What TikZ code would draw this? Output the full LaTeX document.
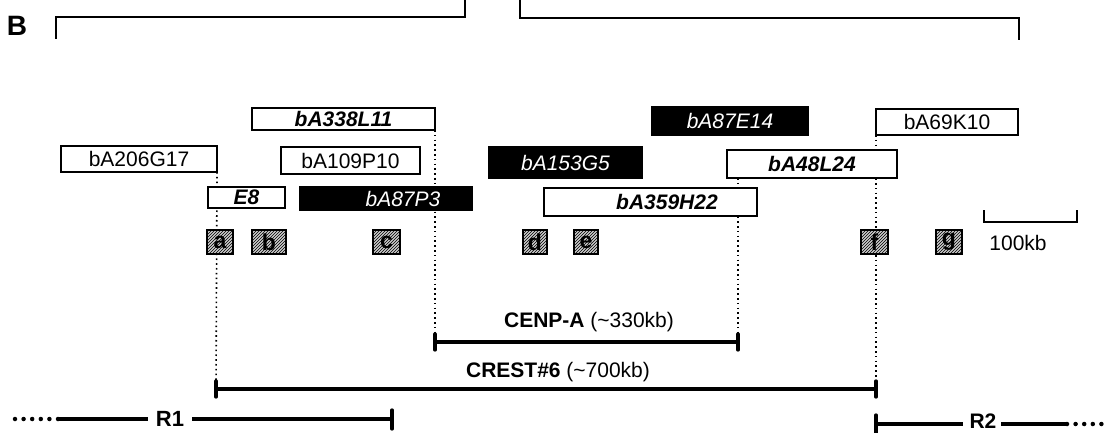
\documentclass[tikz,border=0pt]{standalone}
\usepackage{fontspec}
\setmainfont{Liberation Sans}
\usetikzlibrary{patterns}
\begin{document}
\begin{tikzpicture}[x=1pt,y=-1pt,
  every node/.style={inner sep=0pt, outer sep=0pt, font=\fontsize{21}{24}\selectfont},
  wbox/.style={draw=black, fill=white, line width=1.3pt, anchor=north west},
  kbox/.style={draw=black, fill=black, text=white, line width=1.3pt, anchor=north west},
  bi/.style={font=\fontsize{21}{24}\selectfont\bfseries\itshape},
  wi/.style={font=\fontsize{21}{24}\selectfont\itshape, text=white},
  sq/.style={draw=black, line width=1.1pt, fill=gray!40, anchor=north west, minimum height=24pt},
  dotline/.style={line width=1.6pt, dash pattern=on 1.6pt off 3.2pt},
  bar/.style={line width=3.3pt},
  tick/.style={line width=3.3pt, line cap=round},
  brk/.style={line width=1.5pt},
  dots/.style={line width=4.5pt, line cap=round, dash pattern=on 0pt off 8.6pt}
]
\useasboundingbox (0,0) rectangle (1109,433);

% coordinates of bar ends
\coordinate (cenL) at (435,342);
\coordinate (cenR) at (738,342);
\coordinate (crL) at (216,389);
\coordinate (crR) at (876,389);

% top bracket and label
\node[font=\fontsize{28}{30}\selectfont\bfseries] (B) at (17,26) {B};
\draw[brk] (56,39) -- (56,17) -- (465,17) -- (465,0);
\draw[brk] (520,0) -- (520,18) -- (1019,18) -- (1019,40);

% placeholders of boxes that start dotted lines
\node[wbox, draw=none, fill=none, minimum width=183pt, minimum height=22pt] (p338) at (252,108) {};
\node[wbox, draw=none, fill=none, minimum width=156pt, minimum height=26pt] (p206) at (61,146) {};
\node[wbox, draw=none, fill=none, minimum width=170pt, minimum height=28pt] (p48) at (727,150) {};
\node[wbox, draw=none, fill=none, minimum width=142pt, minimum height=26pt] (p69) at (876,109) {};

% dotted lines
\draw[dotline] (p206.south east) -- (crL);
\draw[dotline] (p338.south east) -- (cenL);
\draw[dotline] (p48.south -| cenR) -- (cenR);
\draw[dotline] (p69.south west) -- (crR);

% clone boxes
\node[wbox, minimum width=183pt, minimum height=22pt, bi] (n338) at (252,108) {bA338L11};
\node[wbox, minimum width=156pt, minimum height=26pt] (n206) at (61,146) {bA206G17};
\node[wbox, minimum width=139pt, minimum height=27pt] (n109) at (281,147) {bA109P10};
\node[wbox, minimum width=77pt, minimum height=21pt, bi] (nE8) at (208,187) {E8};
\node[kbox, minimum width=172pt, minimum height=23pt] (n87P3) at (300,187) {};
\node[wi] (t87P3) at (403,198.5) {bA87P3};
\node[kbox, minimum width=156pt, minimum height=28pt, wi] (n87E14) at (652,107) {bA87E14};
\node[kbox, minimum width=153pt, minimum height=31pt, wi] (n153) at (489,147) {bA153G5};
\node[wbox, minimum width=170pt, minimum height=28pt, bi] (n48) at (727,150) {bA48L24};
\node[wbox, minimum width=213pt, minimum height=28pt] (n359) at (544,188) {};
\node[bi] (t359) at (667,202) {bA359H22};
\node[wbox, minimum width=142pt, minimum height=26pt] (n69) at (876,109) {bA69K10};

% hatched marker squares
\foreach \nm/\x/\w in {a/207/26, b/252/34, c/373/27, d/523/24, e/574/24, f/861/27, g/936/26}{
  \node[sq, minimum width=\w pt] (s\nm) at (\x,230) {};
  \fill[pattern=north east lines, pattern color=black] (s\nm.north west) rectangle (s\nm.south east);
  \draw[line width=1.2pt] (s\nm.north west) rectangle (s\nm.south east);
  \node[font=\fontsize{23}{24}\selectfont\bfseries] (l\nm) at (s\nm.center) {\nm};
}

% scale bar
\draw[line width=1.4pt] (984,210) -- (984,222) -- (1077,222) -- (1077,210);
\node (kb) at (1018,243) {100kb};

% CENP-A
\node (tcen) at (589,322) {\textbf{CENP-A} (\textasciitilde330kb)};
\draw[bar] (cenL) -- (cenR);
\draw[tick] ([yshift=-8pt]cenL) -- ([yshift=8pt]cenL);
\draw[tick] ([yshift=-8pt]cenR) -- ([yshift=8pt]cenR);

% CREST#6
\node (tcr) at (558,372) {\textbf{CREST\#6} (\textasciitilde700kb)};
\draw[bar] (crL) -- (crR);
\draw[tick] ([yshift=-8pt]crL) -- ([yshift=8pt]crL);
\draw[tick] ([yshift=-8pt]crR) -- ([yshift=8pt]crR);

% R1
\coordinate (r1a) at (15,419);
\coordinate (r1b) at (58,419);
\coordinate (r1e) at (392,419);
\node[font=\fontsize{22}{24}\selectfont\bfseries] (R1) at (170,419) {R1};
\draw[dots] (r1a) -- (r1b);
\draw[bar] (r1b) -- (R1.west -| 148,0);
\draw[bar] (R1.east -| 192,0) -- (r1e);
\draw[tick] ([yshift=-10pt]r1e) -- ([yshift=9pt]r1e);

% R2
\coordinate (r2s) at (876,424);
\coordinate (r2b) at (1067,424);
\coordinate (r2e) at (1105,424);
\node[font=\fontsize{21}{24}\selectfont\bfseries] (R2) at (983,421.5) {R2};
\draw[tick] ([yshift=-9pt]r2s) -- ([yshift=9pt]r2s);
\draw[bar] (r2s) -- (963,424);
\draw[bar] (1001,424) -- (r2b);
\draw[dots] (r2b) -- (r2e);
\end{tikzpicture}
\end{document}
